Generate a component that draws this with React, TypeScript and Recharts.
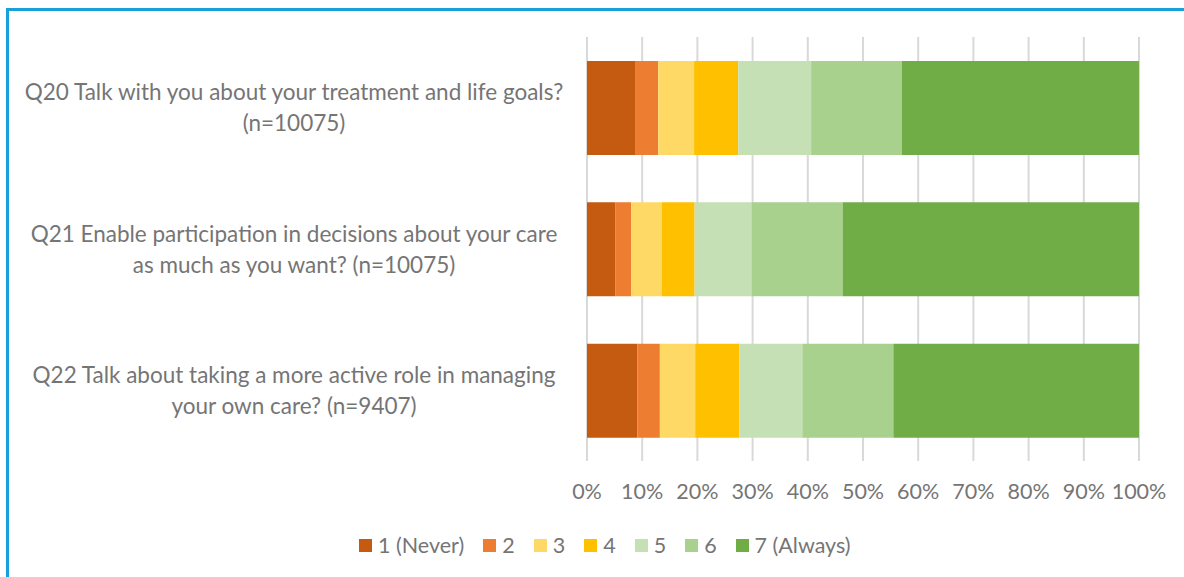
import { BarChart, Bar, XAxis, YAxis, CartesianGrid, Legend } from "recharts";

const questions = [
  ["Q20 Talk with you about your treatment and life goals?", "(n=10075)"],
  ["Q21 Enable participation in decisions about your care", "as much as you want? (n=10075)"],
  ["Q22 Talk about taking a more active role in managing", "your own care? (n=9407)"],
];
const seriesNames = ["1 (Never)", "2", "3", "4", "5", "6", "7 (Always)"];
const colors = ["#c55a11", "#ed7d31", "#ffd966", "#ffc000", "#c5e0b4", "#a9d18e", "#70ad47"];
// percentages per response, one array per question
const q20 = [8.7, 4.2, 6.5, 8.0, 13.2, 16.4, 43.0];
const q21 = [5.1, 2.9, 5.5, 6.0, 10.3, 16.5, 53.7];
const q22 = [9.1, 4.1, 6.4, 8.0, 11.4, 16.5, 44.5];
const xTicks = [0, 10, 20, 30, 40, 50, 60, 70, 80, 90, 100];

const rows = [q20, q21, q22];
const data = questions.map((q, i) => {
  const row: Record<string, any> = { name: q.join("\n") };
  seriesNames.forEach((s, j) => {
    row[s] = rows[i][j];
  });
  return row;
});

const TEXT = "#757575";
const FONT = "Lato, 'Noto Sans', sans-serif";

function CatTick(props: any) {
  const { x, y, payload } = props;
  const lines = String(payload.value).split("\n");
  const cx = x - 285;
  return (
    <text fill={TEXT} fontSize={22.5} fontFamily={FONT} textAnchor="middle">
      {lines.map((l, i) => (
        <tspan key={i} x={cx} y={y + (i - (lines.length - 1) / 2) * 31 + 8}>
          {l}
        </tspan>
      ))}
    </text>
  );
}

function LegendRow() {
  return (
    <div style={{ display: "flex", gap: 19, fontFamily: FONT, fontSize: 21.5, color: TEXT }}>
      {seriesNames.map((s, i) => (
        <div key={s} style={{ display: "flex", alignItems: "center" }}>
          <span style={{ width: 13, height: 13, background: colors[i], marginRight: 6, display: "inline-block" }} />
          <span>{s}</span>
        </div>
      ))}
    </div>
  );
}

export default function App() {
  return (
    <div style={{ position: "absolute", left: 0, top: 0, width: 1184, height: 577, overflow: "hidden", background: "#fff" }}>
      <div
        style={{
          position: "absolute",
          left: 6,
          top: 8,
          width: 1220,
          height: 620,
          border: "3px solid #17a0db",
        }}
      />
      <div style={{ position: "absolute", left: 0, top: 0 }}>
        <BarChart
          width={1184}
          height={577}
          data={data}
          layout="vertical"
          margin={{ top: 37, right: 45, bottom: 76, left: 0 }}
          barSize={94}
        >
          <CartesianGrid horizontal={false} stroke="#d9d9d9" strokeWidth={2} />
          <XAxis
            type="number"
            domain={[0, 100]}
            ticks={xTicks}
            tickFormatter={(v) => `${v}%`}
            axisLine={false}
            tickLine={false}
            tickMargin={17}
            height={40}
            interval={0}
            tick={{ fill: TEXT, fontSize: 21.5, fontFamily: FONT }}
          />
          <YAxis
            type="category"
            dataKey="name"
            width={587}
            axisLine={false}
            tickLine={false}
            tick={<CatTick />}
            interval={0}
          />
          <Legend
            layout="horizontal"
            verticalAlign="middle"
            content={() => <LegendRow />}
            wrapperStyle={{ position: "absolute", left: 359, top: 532, width: "auto" }}
          />
          {seriesNames.map((s, i) => (
            <Bar key={s} dataKey={s} stackId="a" fill={colors[i]} isAnimationActive={false} />
          ))}
        </BarChart>
      </div>
    </div>
  );
}
